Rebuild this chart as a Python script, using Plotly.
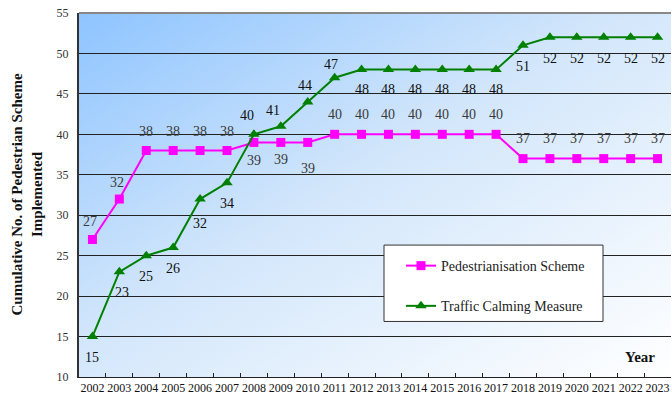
import base64
import plotly.graph_objects as go

# Data
years = [str(y) for y in range(2002, 2024)]
pedestrianisation = [27, 32, 38, 38, 38, 38, 39, 39, 39, 40, 40, 40, 40, 40, 40, 40,
                     37, 37, 37, 37, 37, 37]
traffic_calming = [15, 23, 25, 26, 32, 34, 40, 41, 44, 47, 48, 48, 48, 48, 48, 48,
                   51, 52, 52, 52, 52, 52]

# Label placement (pixel offsets from each point)
ped_label_dy = [18, 17, 19, 19, 19, 19, -18, -17, -26] + [20] * 7 + [20] * 6
ped_label_dx = [-2, -2] + [0] * 20
tcm_label_dy = [-21, -21, -21, -21, -24, -21, 19, 16, 16, 13] + [-20] * 6 + [-21] * 6
tcm_label_dx = [0, 3, 0, 0, 0, 0, -7, -8, -3, -4] + [0] * 12

SERIF = "Liberation Serif"
PED_COLOR = "#FF00FF"
TCM_COLOR = "#008000"

fig = go.Figure()
fig.add_trace(go.Scatter(
    x=years, y=pedestrianisation, name="Pedestrianisation Scheme",
    mode="lines+markers", legendgroup="a",
    line=dict(color=PED_COLOR, width=2),
    marker=dict(symbol="square", size=9, color=PED_COLOR),
))
fig.add_trace(go.Scatter(
    x=years, y=traffic_calming, name="Traffic Calming Measure",
    mode="lines+markers", legendgroup="b",
    line=dict(color=TCM_COLOR, width=2),
    marker=dict(symbol="triangle-up", size=10, color=TCM_COLOR),
))

annotations = []
for ys, dys, dxs, col in [
    (pedestrianisation, ped_label_dy, ped_label_dx, "#3a3a3a"),
    (traffic_calming, tcm_label_dy, tcm_label_dx, "#111111"),
]:
    # category position i corresponds to years[i]
    for i, (y, dy, dx) in enumerate(zip(ys, dys, dxs)):
        annotations.append(dict(
            x=i, y=y, xref="x", yref="y", text=str(y), showarrow=False,
            yshift=dy, xshift=dx,
            font=dict(family=SERIF, size=14, color=col),
        ))

annotations.append(dict(
    x=(640 - 79) / 592, y=(380 - 360) / 367, xref="paper", yref="paper",
    text="<b>Year</b>", showarrow=False, xanchor="center", yanchor="middle",
    font=dict(family=SERIF, size=15, color="#111111"),
))
annotations.append(dict(
    x=(27 - 79) / 592, y=(380 - 196) / 367, xref="paper", yref="paper",
    text="<b>Cumulative No. of Pedestrian Scheme<br>Implemented</b>",
    showarrow=False, textangle=-90, xanchor="center", yanchor="middle",
    font=dict(family=SERIF, size=15, color="#111111"),
))

# Gradient backdrop for the plotting area
svg = (
    '<svg xmlns="http://www.w3.org/2000/svg" width="600" height="400" '
    'preserveAspectRatio="none" viewBox="0 0 600 400">'
    '<defs><linearGradient id="g" x1="0" y1="0" x2="1" y2="1">'
    '<stop offset="0" stop-color="#8EC4FF"/>'
    '<stop offset="0.45" stop-color="#D2E6FB"/>'
    '<stop offset="1" stop-color="#FFFFFF"/>'
    '</linearGradient></defs>'
    '<rect width="600" height="400" fill="url(#g)"/></svg>'
)
src = "data:image/svg+xml;base64," + base64.b64encode(svg.encode()).decode()

shapes = [
    # top border of the plotting area
    dict(type="line", xref="paper", yref="paper", x0=0, x1=1, y0=1, y1=1,
         line=dict(color="#888888", width=2)),
    # legend frame
    dict(type="rect", xref="paper", yref="paper", layer="above",
         x0=(384 - 79) / 592, x1=(603 - 79) / 592,
         y0=(380 - 324) / 367, y1=(380 - 247) / 367,
         fillcolor="white", line=dict(color="#333333", width=1)),
]

fig.update_layout(
    width=672, height=396,
    margin=dict(l=79, r=1, t=13, b=16),
    paper_bgcolor="white", plot_bgcolor="rgba(0,0,0,0)",
    showlegend=True,
    legend=dict(
        x=(401 - 79) / 592, y=(380 - 252) / 367, xanchor="left", yanchor="top",
        bgcolor="rgba(0,0,0,0)", borderwidth=0, tracegroupgap=19,
        font=dict(family=SERIF, size=14, color="#222222"),
    ),
    images=[dict(source=src, xref="paper", yref="paper", x=0, y=1,
                 sizex=1, sizey=1, sizing="stretch", layer="below",
                 xanchor="left", yanchor="top")],
    shapes=shapes,
    annotations=annotations,
    xaxis=dict(
        type="category", range=[-0.5, len(years) - 0.5],
        tickson="boundaries", ticks="inside", ticklen=4,
        tickcolor="#222222", showline=True, linecolor="#222222", linewidth=1,
        showgrid=False, tickangle=0,
        tickfont=dict(family=SERIF, size=12, color="#111111"),
    ),
    yaxis=dict(
        range=[10, 55], dtick=5, tick0=10, showgrid=True, gridcolor="#222222",
        gridwidth=1, showline=True, linecolor="#333333", linewidth=2,
        zeroline=False, ticks="", ticklabelstandoff=6,
        tickfont=dict(family=SERIF, size=12, color="#333333"),
    ),
)

fig.write_html("out.html")
